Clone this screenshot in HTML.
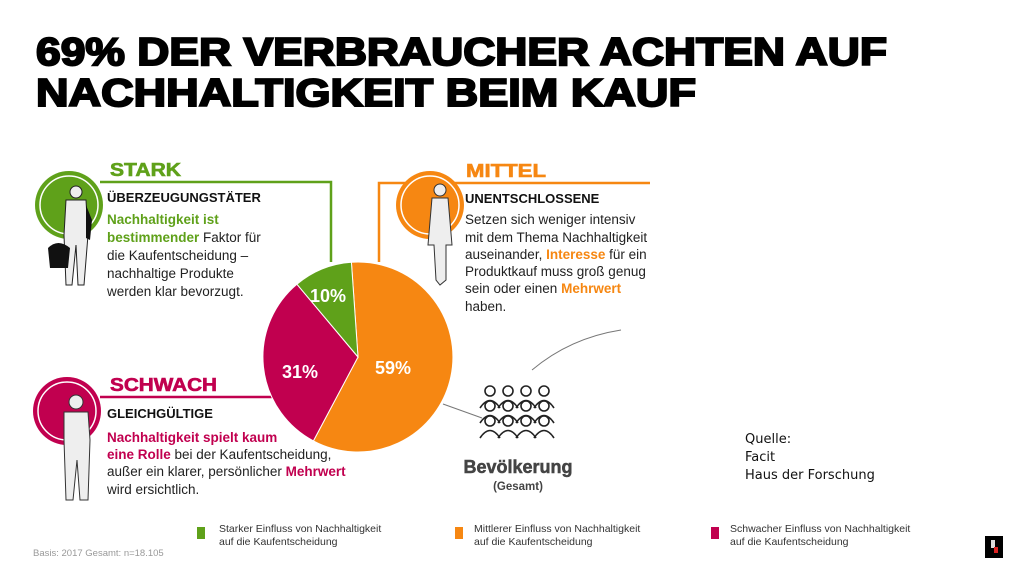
<!DOCTYPE html>
<html><head><meta charset="utf-8"><style>
html,body{margin:0;padding:0;background:#fff;}
svg{display:block;}
text{font-family:"Liberation Sans",Arial,sans-serif;}
</style></head><body>
<svg width="1024" height="576" viewBox="0 0 1024 576" xmlns="http://www.w3.org/2000/svg">
<rect width="1024" height="576" fill="#fff"/>
<!-- Title -->
<text x="36" y="65" font-size="39" font-weight="bold" textLength="851" lengthAdjust="spacingAndGlyphs" fill="#000" stroke="#000" stroke-width="2">69% DER VERBRAUCHER ACHTEN AUF</text>
<text x="36" y="106" font-size="39" font-weight="bold" textLength="660" lengthAdjust="spacingAndGlyphs" fill="#000" stroke="#000" stroke-width="2">NACHHALTIGKEIT BEIM KAUF</text>

<!-- STARK -->
<text x="110" y="176" font-size="18" font-weight="bold" fill="#5fa11a" textLength="71" lengthAdjust="spacingAndGlyphs" stroke="#5fa11a" stroke-width="0.6">STARK</text>
<polyline points="100,182 331,182 331,262" fill="none" stroke="#5fa11a" stroke-width="2.5"/>
<circle cx="69" cy="205" r="34" fill="#5fa11a"/>
<circle cx="69" cy="205" r="29" fill="none" stroke="#fff" stroke-width="1.5"/>
<g fill="#eee" stroke="#222" stroke-width="1">
<circle cx="76" cy="192" r="6"/>
<path d="M66,200 L86,200 L88,235 L84,285 L78,285 L76,245 L72,285 L66,285 L64,235 Z"/>
</g>
<path d="M48,248 Q58,238 70,248 L68,268 L50,268 Z" fill="#111"/>
<path d="M86,205 L92,220 L90,240 L86,238 Z" fill="#111"/>
<text x="107" y="202" font-size="13" font-weight="bold" fill="#111">ÜBERZEUGUNGSTÄTER</text>
<g font-size="13.5" fill="#222">
<text x="107" y="224"><tspan fill="#5fa11a" font-weight="bold">Nachhaltigkeit ist</tspan></text>
<text x="107" y="242"><tspan fill="#5fa11a" font-weight="bold">bestimmender</tspan> Faktor für</text>
<text x="107" y="260">die Kaufentscheidung –</text>
<text x="107" y="278">nachhaltige Produkte</text>
<text x="107" y="296">werden klar bevorzugt.</text>
</g>

<!-- MITTEL -->
<text x="466" y="177" font-size="18" font-weight="bold" fill="#f68712" textLength="80" lengthAdjust="spacingAndGlyphs" stroke="#f68712" stroke-width="0.6">MITTEL</text>
<polyline points="379,262 379,183 650,183" fill="none" stroke="#f68712" stroke-width="2.5"/>
<circle cx="430" cy="205" r="34" fill="#f68712"/>
<circle cx="430" cy="205" r="29" fill="none" stroke="#fff" stroke-width="1.5"/>
<g fill="#eee" stroke="#333" stroke-width="1">
<circle cx="440" cy="190" r="6"/>
<path d="M432,198 L448,198 L452,245 L446,245 L446,280 L440,285 L436,280 L434,245 L428,245 Z"/>
</g>
<text x="465" y="203" font-size="13" font-weight="bold" fill="#111">UNENTSCHLOSSENE</text>
<g font-size="13.5" fill="#222">
<text x="465" y="224">Setzen sich weniger intensiv</text>
<text x="465" y="242">mit dem Thema Nachhaltigkeit</text>
<text x="465" y="259">auseinander, <tspan fill="#f68712" font-weight="bold">Interesse</tspan> für ein</text>
<text x="465" y="276">Produktkauf muss groß genug</text>
<text x="465" y="293">sein oder einen <tspan fill="#f68712" font-weight="bold">Mehrwert</tspan></text>
<text x="465" y="311">haben.</text>
</g>

<!-- SCHWACH -->
<text x="110" y="391" font-size="18" font-weight="bold" fill="#c1004f" textLength="107" lengthAdjust="spacingAndGlyphs" stroke="#c1004f" stroke-width="0.6">SCHWACH</text>
<line x1="100" y1="397" x2="272" y2="397" stroke="#c1004f" stroke-width="2.5"/>
<circle cx="67" cy="411" r="34" fill="#c1004f"/>
<circle cx="67" cy="411" r="29" fill="none" stroke="#fff" stroke-width="1.5"/>
<g fill="#eee" stroke="#333" stroke-width="1">
<circle cx="76" cy="402" r="7"/>
<path d="M64,412 L88,412 L90,440 L88,500 L80,500 L77,460 L73,500 L66,500 L64,440 Z"/>
</g>
<text x="107" y="418" font-size="13" font-weight="bold" fill="#111">GLEICHGÜLTIGE</text>
<g font-size="13.5" fill="#222">
<text x="107" y="442"><tspan fill="#c1004f" font-weight="bold">Nachhaltigkeit spielt kaum</tspan></text>
<text x="107" y="459"><tspan fill="#c1004f" font-weight="bold">eine Rolle</tspan> bei der Kaufentscheidung,</text>
<text x="107" y="476">außer ein klarer, persönlicher <tspan fill="#c1004f" font-weight="bold">Mehrwert</tspan></text>
<text x="107" y="494">wird ersichtlich.</text>
</g>

<!-- Pie -->
<path d="M358,357 L351.4,262.2 A95,95 0 1 1 313.4,440.9 Z" fill="#f68712" stroke="#fff" stroke-width="1"/>
<path d="M358,357 L313.4,440.9 A95,95 0 0 1 296.9,284.2 Z" fill="#c1004f" stroke="#fff" stroke-width="1"/>
<path d="M358,357 L296.9,284.2 A95,95 0 0 1 351.4,262.2 Z" fill="#5fa11a" stroke="#fff" stroke-width="1"/>
<g font-size="18" font-weight="bold" fill="#fff">
<text x="310" y="302">10%</text>
<text x="282" y="378">31%</text>
<text x="375" y="374">59%</text>
</g>

<!-- connectors -->
<line x1="443" y1="404" x2="482" y2="418" stroke="#777" stroke-width="1"/>
<path d="M532,370 Q570,338 621,330" fill="none" stroke="#777" stroke-width="1"/>

<!-- people icon -->
<g fill="#fff" stroke="#222" stroke-width="1.6">
<g id="p1">
<circle cx="490" cy="391" r="5"/><path d="M480,408 Q490,393 500,408" fill="none"/>
</g>
<use href="#p1" x="18"/><use href="#p1" x="36"/><use href="#p1" x="54"/>
<use href="#p1" y="15"/><use href="#p1" x="18" y="15"/><use href="#p1" x="36" y="15"/><use href="#p1" x="54" y="15"/>
<use href="#p1" y="30"/><use href="#p1" x="18" y="30"/><use href="#p1" x="36" y="30"/><use href="#p1" x="54" y="30"/>
</g>
<text x="518" y="473" font-size="18" font-weight="bold" fill="#444" text-anchor="middle" stroke="#444" stroke-width="0.5">Bevölkerung</text>
<text x="518" y="490" font-size="11.5" font-weight="bold" fill="#444" text-anchor="middle">(Gesamt)</text>

<!-- Quelle -->
<g font-size="13" fill="#111">
<text x="745" y="443" style="font-family:'DejaVu Sans',sans-serif">Quelle:</text>
<text x="745" y="461" style="font-family:'DejaVu Sans',sans-serif">Facit</text>
<text x="745" y="479" style="font-family:'DejaVu Sans',sans-serif">Haus der Forschung</text>
</g>

<!-- Legend -->
<rect x="197" y="527" width="8" height="12" fill="#5fa11a"/>
<rect x="455" y="527" width="8" height="12" fill="#f68712"/>
<rect x="711" y="527" width="8" height="12" fill="#c1004f"/>
<g font-size="10.5" fill="#333">
<text x="219" y="532">Starker Einfluss von Nachhaltigkeit</text>
<text x="219" y="545">auf die Kaufentscheidung</text>
<text x="474" y="532">Mittlerer Einfluss von Nachhaltigkeit</text>
<text x="474" y="545">auf die Kaufentscheidung</text>
<text x="730" y="532">Schwacher Einfluss von Nachhaltigkeit</text>
<text x="730" y="545">auf die Kaufentscheidung</text>
</g>
<text x="33" y="556" font-size="9.5" fill="#999">Basis: 2017 Gesamt: n=18.105</text>

<!-- logo -->
<rect x="985" y="536" width="18" height="22" fill="#000"/>
<rect x="991" y="540" width="4" height="8" fill="#ddd"/>
<rect x="994" y="547" width="4" height="6" fill="#d22"/>
</svg>
</body></html>
